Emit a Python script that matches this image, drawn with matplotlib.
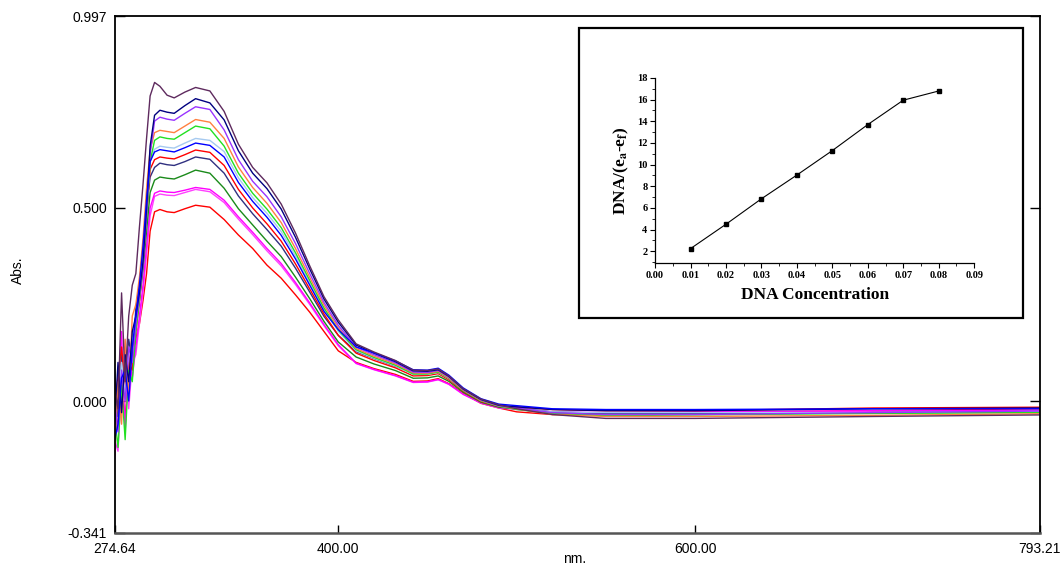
import matplotlib
matplotlib.use("Agg")
import matplotlib.pyplot as plt
from matplotlib.patches import Rectangle
from matplotlib.ticker import MultipleLocator

plt.rcParams["font.family"] = ["Liberation Sans", "DejaVu Sans"]
plt.rcParams["mathtext.fontset"] = "stix"

# --- spectra, absorbance vs wavelength in nm ---
wavelength = [274.6, 276.5, 278.5, 280.5, 282.5, 284.5, 286.5, 288.5, 290.5, 292.5, 294.5, 297,
              300, 304, 308, 314, 320, 328, 336, 344, 352, 360, 368, 376, 384, 392, 400,
              410, 420, 432, 442, 450, 456, 462, 470, 480, 490, 500, 520, 550, 600, 700, 793.2]

abs_plum = [0.04, -0.02, 0.28, 0.05, 0.22, 0.30, 0.33, 0.45, 0.56, 0.68, 0.79, 0.825,
            0.815, 0.792, 0.785, 0.80, 0.812, 0.803, 0.75, 0.665, 0.605, 0.565, 0.51, 0.435, 0.35, 0.27, 0.21,
            0.148, 0.127, 0.105, 0.08, 0.079, 0.083, 0.065, 0.032, 0.005, -0.01, -0.02, -0.035, -0.045, -0.045, -0.04, -0.036]
abs_navy = [-0.06, 0.10, -0.03, 0.12, 0.05, 0.18, 0.22, 0.28, 0.36, 0.50, 0.66, 0.74,
            0.753, 0.748, 0.745, 0.765, 0.783, 0.772, 0.728, 0.648, 0.59, 0.55, 0.497, 0.424, 0.342, 0.264, 0.204,
            0.145, 0.124, 0.102, 0.078, 0.077, 0.081, 0.064, 0.031, 0.004, -0.011, -0.015, -0.022, -0.025, -0.025, -0.02, -0.018]
abs_violet = [0.0, -0.08, 0.08, 0.0, 0.14, 0.10, 0.20, 0.27, 0.35, 0.48, 0.64, 0.725,
              0.735, 0.73, 0.727, 0.745, 0.762, 0.755, 0.702, 0.625, 0.569, 0.529, 0.477, 0.408, 0.33, 0.255, 0.196,
              0.140, 0.120, 0.099, 0.075, 0.074, 0.079, 0.062, 0.030, 0.003, -0.012, -0.018, -0.03, -0.035, -0.035, -0.03, -0.026]
abs_orange = [-0.14, 0.05, -0.06, 0.16, 0.02, 0.22, 0.25, 0.32, 0.42, 0.55, 0.65, 0.695,
              0.701, 0.698, 0.695, 0.712, 0.729, 0.722, 0.68, 0.606, 0.553, 0.512, 0.462, 0.395, 0.32, 0.248, 0.19,
              0.136, 0.116, 0.096, 0.073, 0.072, 0.077, 0.06, 0.029, 0.002, -0.012, -0.02, -0.035, -0.04, -0.04, -0.037, -0.033]
abs_green = [-0.04, -0.12, 0.04, -0.10, 0.08, 0.05, 0.18, 0.26, 0.36, 0.47, 0.62, 0.675,
             0.684, 0.68, 0.678, 0.695, 0.712, 0.705, 0.66, 0.59, 0.538, 0.497, 0.449, 0.384, 0.312, 0.241, 0.184,
             0.133, 0.113, 0.093, 0.07, 0.07, 0.075, 0.059, 0.028, 0.001, -0.013, -0.022, -0.032, -0.038, -0.036, -0.032, -0.03]
abs_lightblue = [0.02, 0.0, 0.10, 0.02, 0.12, 0.16, 0.2, 0.28, 0.38, 0.50, 0.62, 0.652,
                 0.66, 0.657, 0.655, 0.668, 0.68, 0.675, 0.646, 0.578, 0.527, 0.486, 0.439, 0.376, 0.306, 0.237, 0.18,
                 0.13, 0.111, 0.091, 0.069, 0.069, 0.074, 0.058, 0.028, 0.001, -0.013, -0.02, -0.028, -0.03, -0.03, -0.03, -0.027]
abs_blue = [-0.10, -0.06, 0.06, 0.08, 0.0, 0.14, 0.22, 0.30, 0.40, 0.52, 0.62, 0.645,
            0.651, 0.648, 0.645, 0.656, 0.668, 0.662, 0.632, 0.566, 0.517, 0.476, 0.429, 0.368, 0.30, 0.232, 0.185,
            0.14, 0.125, 0.104, 0.081, 0.08, 0.085, 0.067, 0.034, 0.006, -0.008, -0.012, -0.02, -0.022, -0.022, -0.02, -0.02]
abs_red = [-0.02, 0.06, 0.14, 0.03, 0.10, 0.08, 0.18, 0.26, 0.36, 0.48, 0.60, 0.625,
           0.632, 0.629, 0.627, 0.638, 0.65, 0.644, 0.61, 0.548, 0.50, 0.459, 0.414, 0.355, 0.29, 0.225, 0.17,
           0.124, 0.105, 0.086, 0.065, 0.066, 0.071, 0.055, 0.026, -0.001, -0.014, -0.015, -0.022, -0.025, -0.025, -0.018, -0.016]
abs_darknavy = [0.08, -0.04, 0.12, 0.06, 0.16, 0.10, 0.24, 0.30, 0.40, 0.50, 0.58, 0.605,
                0.616, 0.612, 0.61, 0.62, 0.632, 0.626, 0.59, 0.531, 0.485, 0.444, 0.401, 0.344, 0.282, 0.219, 0.17,
                0.128, 0.11, 0.09, 0.072, 0.072, 0.077, 0.06, 0.028, 0.001, -0.013, -0.018, -0.028, -0.032, -0.032, -0.03, -0.028]
abs_darkgreen = [-0.12, 0.02, -0.02, 0.10, 0.04, 0.16, 0.2, 0.26, 0.34, 0.44, 0.54, 0.572,
                 0.58, 0.577, 0.575, 0.586, 0.598, 0.59, 0.551, 0.498, 0.456, 0.414, 0.374, 0.321, 0.265, 0.206, 0.153,
                 0.114, 0.096, 0.079, 0.059, 0.06, 0.065, 0.051, 0.023, -0.003, -0.016, -0.02, -0.03, -0.035, -0.034, -0.03, -0.029]
abs_magenta = [-0.15, 0.04, 0.18, -0.08, 0.12, 0.06, 0.14, 0.22, 0.30, 0.40, 0.50, 0.538,
               0.544, 0.541, 0.54, 0.546, 0.553, 0.548, 0.52, 0.477, 0.437, 0.395, 0.356, 0.307, 0.254, 0.198, 0.146,
               0.098, 0.082, 0.066, 0.049, 0.05, 0.056, 0.044, 0.018, -0.005, -0.017, -0.02, -0.028, -0.03, -0.028, -0.025, -0.024]
abs_magenta2 = [-0.10, -0.13, 0.05, 0.14, -0.02, 0.10, 0.12, 0.20, 0.28, 0.38, 0.48, 0.53,
                0.536, 0.533, 0.532, 0.54, 0.548, 0.542, 0.514, 0.471, 0.431, 0.389, 0.35, 0.302, 0.25, 0.195, 0.143,
                0.097, 0.081, 0.065, 0.048, 0.049, 0.055, 0.043, 0.017, -0.005, -0.018, -0.022, -0.03, -0.032, -0.03, -0.027, -0.025]
abs_red_low = [-0.08, -0.05, 0.02, -0.04, 0.06, 0.12, 0.16, 0.20, 0.26, 0.33, 0.44, 0.49,
               0.496, 0.49, 0.488, 0.498, 0.507, 0.502, 0.47, 0.43, 0.395, 0.352, 0.318, 0.275, 0.23, 0.18, 0.13,
               0.10, 0.084, 0.069, 0.051, 0.052, 0.058, 0.045, 0.02, -0.006, -0.018, -0.028, -0.035, -0.033, -0.03, -0.025, -0.02]

spectra = [abs_red_low, abs_magenta2, abs_magenta, abs_darkgreen, abs_darknavy, abs_red,
           abs_lightblue, abs_green, abs_orange, abs_violet, abs_navy, abs_blue, abs_plum]
colors = ["#ff0000", "#ff40ff", "#ff00ff", "#1a8a1a", "#303080", "#ff0000",
          "#a6caf0", "#22e022", "#ff8040", "#9933ff", "#000080", "#0000ff", "#5e2a5e"]

# --- inset: DNA/(ea-ef) vs DNA concentration ---
dna_conc = [0.01, 0.02, 0.03, 0.04, 0.05, 0.06, 0.07, 0.08]
dna_ratio = [2.25, 4.5, 6.85, 9.04, 11.3, 13.7, 15.95, 16.8]

x_ticks = [274.64, 400.0, 600.0, 793.21]
x_labels = ["274.64", "400.00", "600.00", "793.21"]
y_ticks = [-0.341, 0.0, 0.5, 0.997]
y_labels = ["-0.341", "0.000", "0.500", "0.997"]

fig = plt.figure(figsize=(10.6, 5.66), dpi=100)
ax = fig.add_axes([0.1082, 0.0588, 0.8726, 0.9129])

for vals, c in zip(spectra, colors):
    ax.plot(wavelength, vals, color=c, lw=1.0)

ax.set_xlim(274.64, 793.21)
ax.set_ylim(-0.341, 0.997)
ax.set_xticks(x_ticks)
ax.set_xticklabels(x_labels)
ax.set_yticks(y_ticks)
ax.set_yticklabels(y_labels)
ax.tick_params(axis="x", direction="in", length=6, width=1, labelsize=10, pad=7, colors="black")
ax.tick_params(axis="y", direction="in", length=7, width=1, labelsize=10, pad=5.5, right=True)
for side in ["left", "top", "right"]:
    ax.spines[side].set_linewidth(1.3)
    ax.spines[side].set_color("black")
ax.spines["bottom"].set_linewidth(1.8)
ax.spines["bottom"].set_color("#555555")

fig.text(0.017, 0.523, "Abs.", rotation=90, ha="center", va="center", fontsize=10)
fig.text(0.5425, 0.012, "nm.", ha="center", va="center", fontsize=10)

# inset frame
frame = Rectangle((0.5462, 0.4376), 0.4186, 0.5124, transform=fig.transFigure,
                  facecolor="white", edgecolor="black", lw=1.6, zorder=3)
fig.add_artist(frame)

ins = fig.add_axes([0.618, 0.5353, 0.301, 0.3269], zorder=4)
ins.plot(dna_conc, dna_ratio, color="black", lw=0.8, marker="s", markersize=3)
ins.set_xlim(0.0, 0.09)
ins.set_ylim(0.92, 18)
ins.xaxis.set_major_locator(MultipleLocator(0.01))
ins.xaxis.set_minor_locator(MultipleLocator(0.005))
ins.yaxis.set_major_locator(MultipleLocator(2))
ins.yaxis.set_minor_locator(MultipleLocator(1))
ins.set_yticks([2, 4, 6, 8, 10, 12, 14, 16, 18])
ins.set_xticks([0.0, 0.01, 0.02, 0.03, 0.04, 0.05, 0.06, 0.07, 0.08, 0.09])
ins.set_xticklabels(["0.00", "0.01", "0.02", "0.03", "0.04", "0.05", "0.06", "0.07", "0.08", "0.09"])
ins.tick_params(which="major", direction="out", length=3.5, width=0.8, labelsize=7.5, pad=2)
ins.tick_params(which="minor", direction="out", length=2, width=0.6)
for lab in ins.get_xticklabels() + ins.get_yticklabels():
    lab.set_fontfamily("Liberation Serif")
    lab.set_fontweight("bold")
ins.spines["top"].set_visible(False)
ins.spines["right"].set_visible(False)
ins.spines["left"].set_linewidth(0.9)
ins.spines["bottom"].set_linewidth(0.9)
ins.set_xlabel("DNA Concentration", fontfamily="Liberation Serif", fontweight="bold",
               fontsize=12.5, labelpad=5)
ins.set_ylabel(r"DNA/(e$_{\mathbf{a}}$-e$_{\mathbf{f}}$)", fontfamily="Liberation Serif",
               fontweight="bold", fontsize=12.5, labelpad=4)

fig.savefig("out.png", dpi=100)
